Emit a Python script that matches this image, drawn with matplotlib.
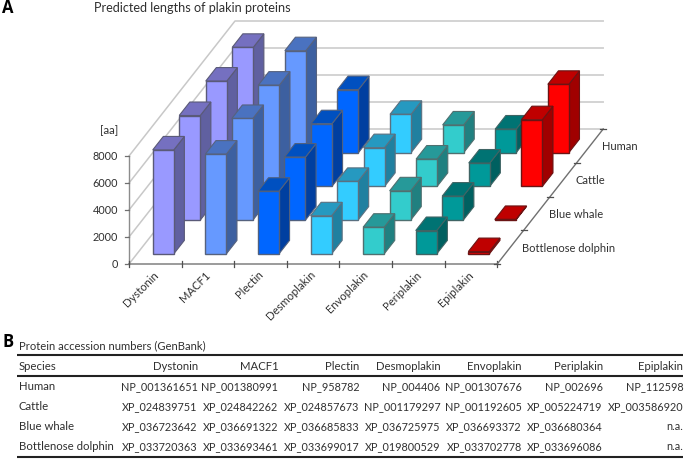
import matplotlib
matplotlib.use("Agg")
import matplotlib.pyplot as plt
from matplotlib.patches import Polygon

plt.rcParams['font.family'] = ['Lato', 'DejaVu Sans']

# chart data, back row first in the drawing loop below
proteins = ["Dystonin", "MACF1", "Plectin", "Desmoplakin", "Envoplakin", "Periplakin", "Epiplakin"]
species = ["Bottlenose dolphin", "Blue whale", "Cattle", "Human"]
dolphin = [7700, 7390, 4640, 2820, 1975, 1730, 170]
whale = [7750, 7530, 4670, 2870, 2170, 1780, 50]
cattle = [7800, 7500, 4640, 2870, 2025, 1730, 4940]
human = [7800, 7550, 4670, 2840, 2050, 1750, 5060]
y_ticks = [0, 2000, 4000, 6000, 8000]

# front, top, side colours of each protein
front_cols = ['#9999FF', '#6699FF', '#0066FF', '#33CCFF', '#33CCCC', '#009999', '#FF0000']
top_cols = ['#7570C0', '#4A72C0', '#0050C0', '#2699C0', '#269999', '#007373', '#BF0000']
side_cols = ['#6060A0', '#3D60A0', '#003FA0', '#2080A0', '#208080', '#006060', '#A00000']
edge_cols = ['#5a5a78', '#56627e', '#50607e', '#5a7080', '#4f7070', '#3f6464', '#6a1414']

# table data
table_head = ["Species"] + proteins
table_rows = [
    ["Human", "NP_001361651", "NP_001380991", "NP_958782", "NP_004406", "NP_001307676", "NP_002696", "NP_112598"],
    ["Cattle", "XP_024839751", "XP_024842262", "XP_024857673", "NP_001179297", "NP_001192605", "XP_005224719", "XP_003586920"],
    ["Blue whale", "XP_036723642", "XP_036691322", "XP_036685833", "XP_036725975", "XP_036693372", "XP_036680364", "n.a."],
    ["Bottlenose dolphin", "XP_033720363", "XP_033693461", "XP_033699017", "XP_019800529", "XP_033702778", "XP_033696086", "n.a."],
]
col_right = [197.7, 278.3, 359.3, 440.3, 521.7, 602.7, 683.3]
row_y = [387, 407, 427, 447]

# oblique projection of the 3D chart onto the picture
X0, Y0 = 129, 264
CAT_W = 52.6
ROW_DX, ROW_DY = 26.5, -33.75
PX_PER_AA = 108 / 8000


def proj(cat, row, val=0):
    return (X0 + cat * CAT_W + row * ROW_DX,
            Y0 + row * ROW_DY - val * PX_PER_AA)


def draw_bar(ax, cat, row, val, i):
    l, r = cat + 0.3, cat + 0.7
    near, far = row + 0.3, row + 0.7
    front = [proj(l, near), proj(r, near), proj(r, near, val), proj(l, near, val)]
    side = [proj(r, near), proj(r, far), proj(r, far, val), proj(r, near, val)]
    top = [proj(l, near, val), proj(r, near, val), proj(r, far, val), proj(l, far, val)]
    ax.add_patch(Polygon(side, fc=side_cols[i], ec=edge_cols[i], lw=0.8, zorder=3))
    ax.add_patch(Polygon(top, fc=top_cols[i], ec=edge_cols[i], lw=0.8, zorder=3))
    ax.add_patch(Polygon(front, fc=front_cols[i], ec=edge_cols[i], lw=1.0, zorder=3))


fig = plt.figure(figsize=(6.85, 4.59), dpi=100)
ax = fig.add_axes([0, 0, 1, 1])
ax.set_xlim(0, 685)
ax.set_ylim(459, 0)
ax.axis('off')

# walls and gridlines
n_cat = len(proteins)
n_row = len(species)
for v in y_ticks:
    a, b, c = proj(0, 0, v), proj(0, n_row, v), proj(n_cat, n_row, v)
    ax.plot([a[0], b[0], c[0]], [a[1], b[1], c[1]], color='#c8c8c8', lw=1.1)

# value axis
a, b = proj(0, 0, 0), proj(0, 0, 8000)
ax.plot([a[0], b[0]], [a[1], b[1]], color='#8c8c8c', lw=1)
for v in y_ticks:
    p = proj(0, 0, v)
    ax.plot([p[0] - 4, p[0]], [p[1], p[1]], color='#707070', lw=0.9)
    ax.text(p[0] - 11, p[1] + 0.5, str(v), ha='right', va='center', fontsize=7.8, color='#303030')
ax.text(118, 131, "[aa]", ha='right', va='center', fontsize=8.2, color='#303030')

# category axis
a, b = proj(0, 0), proj(n_cat, 0)
ax.plot([a[0], b[0]], [a[1], b[1]], color='#808080', lw=1.1)
for i in range(n_cat + 1):
    p = proj(i, 0)
    ax.plot([p[0], p[0]], [p[1] - 3, p[1] + 3], color='#505050', lw=0.9)

# depth axis
a, b = proj(n_cat, 0), proj(n_cat, n_row)
ax.plot([a[0], b[0]], [a[1], b[1]], color='#707070', lw=1.0)
for r in range(n_row + 1):
    p = proj(n_cat, r)
    ax.plot([p[0] - 3, p[0] + 3], [p[1], p[1]], color='#505050', lw=0.9)

# bars, back row first so the nearer ones cover them
values = [dolphin, whale, cattle, human]
for r in range(n_row - 1, -1, -1):
    for i in range(n_cat):
        draw_bar(ax, i, r, values[r][i], i)

for i, name in enumerate(proteins):
    p = proj(i + 0.5, 0)
    ax.text(p[0] + 1, p[1] + 9, name, rotation=45, rotation_mode='anchor',
            ha='right', va='center', fontsize=8.1, color='#303030')

for r, name in enumerate(species):
    p = proj(n_cat, r + 0.5)
    ax.text(p[0] + 12, p[1] + 1, name, ha='left', va='center', fontsize=8.0, color='#303030')

ax.text(94, 8.5, "Predicted lengths of plakin proteins", ha='left', va='center', fontsize=9.1, color='#303030')
ax.text(2, 8, "A", ha='left', va='center', fontsize=12, fontweight='bold', family='Open Sans', color='black')

# table part
ax.text(2, 342, "B", ha='left', va='center', fontsize=12, fontweight='bold', family='Open Sans', color='black')
ax.text(19, 346, "Protein accession numbers (GenBank)", ha='left', va='center', fontsize=8.1, color='#303030')
for y, w in [(355.3, 1.5), (376.3, 1.5), (456.7, 1.5)]:
    ax.plot([17, 683.5], [y, y], color='#222222', lw=w, solid_capstyle='butt')

ax.text(19, 367, table_head[0], ha='left', va='center', fontsize=8.2, color='#303030')
for x, name in zip(col_right, table_head[1:]):
    ax.text(x, 367, name, ha='right', va='center', fontsize=8.2, color='#303030')
for y, row in zip(row_y, table_rows):
    ax.text(19, y, row[0], ha='left', va='center', fontsize=8.2, color='#303030')
    for x, cell in zip(col_right, row[1:]):
        ax.text(x, y, cell, ha='right', va='center', fontsize=7.8, color='#303030')

fig.savefig("out.png", dpi=100)
